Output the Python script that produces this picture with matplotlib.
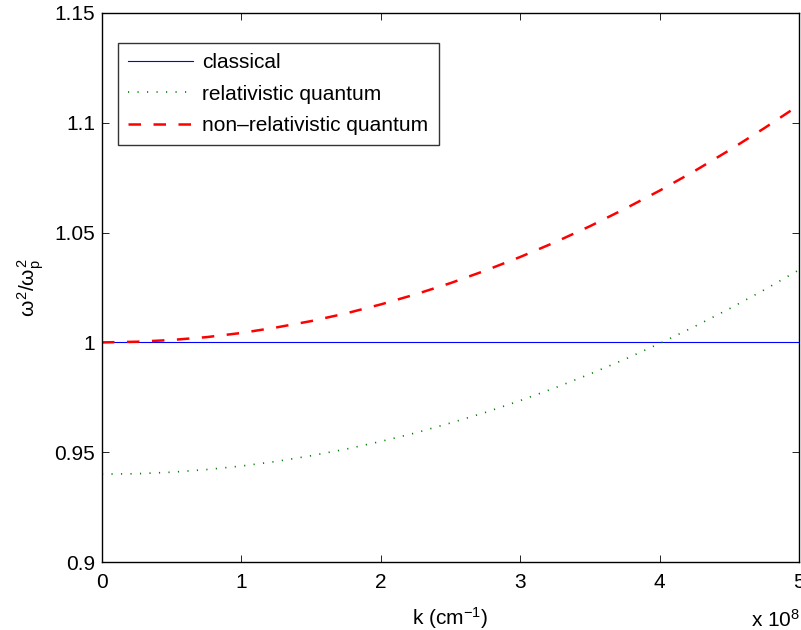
import numpy as np
import matplotlib
matplotlib.use("Agg")
import matplotlib.pyplot as plt

plt.rcParams['font.family'] = ['Liberation Sans', 'DejaVu Sans']
plt.rcParams['mathtext.fontset'] = 'custom'
plt.rcParams['mathtext.rm'] = 'Liberation Sans'
plt.rcParams['mathtext.it'] = 'Liberation Sans'

# wavenumber in units of 1e8 cm^-1
k = [0.0, 0.25, 0.5, 0.75, 1.0, 1.25, 1.5, 1.75, 2.0, 2.25, 2.5,
     2.75, 3.0, 3.25, 3.5, 3.75, 4.0, 4.25, 4.5, 4.75, 5.0]

classical = [1.0] * len(k)
rel_quantum = [0.9400, 0.9402, 0.9409, 0.9421, 0.9437, 0.9458, 0.9484,
               0.9514, 0.9549, 0.9588, 0.9633, 0.9681, 0.9735, 0.9793,
               0.9856, 0.9923, 0.9995, 1.0072, 1.0153, 1.0239, 1.0330]
nonrel_quantum = [1.0000, 1.0003, 1.0011, 1.0024, 1.0043, 1.0068, 1.0097,
                  1.0132, 1.0173, 1.0219, 1.0270, 1.0327, 1.0389, 1.0456,
                  1.0529, 1.0608, 1.0691, 1.0780, 1.0875, 1.0975, 1.1080]

x_ticks = [0, 1, 2, 3, 4, 5]
y_ticks = [0.9, 0.95, 1.0, 1.05, 1.1, 1.15]
y_tick_labels = ['0.9', '0.95', '1', '1.05', '1.1', '1.15']

fig = plt.figure(figsize=(8.01, 6.30), dpi=100)
ax = fig.add_axes([0.1273, 0.1079, 0.8702, 0.8715])

ax.plot(k, classical, color=(0, 0, 1), lw=0.8, label='classical')
ax.plot(k, rel_quantum, color=(0, 0.5, 0), lw=1.2, dashes=(0.7, 5.0),
        label='relativistic quantum')
ax.plot(k, nonrel_quantum, color=(1, 0, 0), lw=1.8, dashes=(5.0, 5.0),
        label='non\u2013relativistic quantum')

ax.set_xlim(0, 5)
ax.set_ylim(0.9, 1.15)
ax.set_xticks(x_ticks)
ax.set_yticks(y_ticks)
ax.set_yticklabels(y_tick_labels)
ax.tick_params(direction='in', top=True, right=True, labelsize=15,
               length=5, width=0.6)
ax.tick_params(axis='x', pad=8)
ax.tick_params(axis='y', pad=5)
for s in ax.spines.values():
    s.set_linewidth(1.0)

ax.set_xlabel('k (cm$^{-1}$)', fontsize=15, labelpad=9)
ax.set_ylabel(r'$\omega^2/\omega_p^2$', fontsize=15, labelpad=6)
fig.text(0.938, 0.005, r'x 10$^8$', fontsize=15)

leg = ax.legend(loc='upper left', bbox_to_anchor=(0.023, 0.946), fontsize=15,
                frameon=True, fancybox=False, edgecolor='black',
                handlelength=3.1, handletextpad=0.45, borderpad=0.5,
                labelspacing=0.6, borderaxespad=0)
leg.get_frame().set_linewidth(1.0)

fig.savefig('out.png', dpi=100)
